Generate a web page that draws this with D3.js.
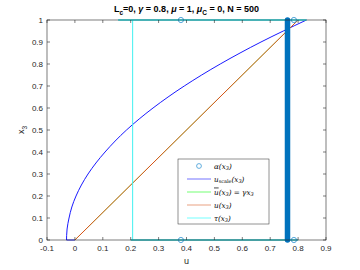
<!DOCTYPE html>
<html>
<head>
<meta charset="utf-8">
<script src="https://cdn.jsdelivr.net/npm/d3@7"></script>
<style>
  body { margin: 0; background: #fff; }
  svg { display: block; font-family: "Liberation Sans", Arial, sans-serif; }
</style>
</head>
<body>
<svg id="chart" width="360" height="270"></svg>
<script>
  // data
  var xTicks = [-0.1, 0, 0.1, 0.2, 0.3, 0.4, 0.5, 0.6, 0.7, 0.8, 0.9]
  var yTicks = [0, 0.1, 0.2, 0.3, 0.4, 0.5, 0.6, 0.7, 0.8, 0.9, 1]
  // u_scale(x3): [u, x3]
  var uScaleFoot = [[0, 0], [-0.03, 0]]
  var uScale = [[-0.03, 0], [-0.0297, 0.02], [-0.028, 0.05], [-0.021, 0.1], [-0.011, 0.15], [0.004, 0.2],
    [0.047, 0.3], [0.108, 0.4], [0.185, 0.5], [0.28, 0.6], [0.392, 0.7], [0.521, 0.8],
    [0.667, 0.9], [0.83, 1]]
  // ubar(x3) = gamma*x3 and u(x3) lie on top of each other
  var uBar = [[0, 0], [0.8, 1]]
  var uLine = [[0, 0], [0.8, 1]]
  // tau(x3)
  var tauTop = [[0.155, 1], [0.83, 1]]
  var tauVert = [[0.207, 0], [0.207, 1]]
  var tauBottom = [[0.2, 0], [0.8, 0]]
  // alpha(x3): isolated markers and the dense column of markers
  var alphaPts = [[0.38, 1], [0.785, 1], [0.38, 0], [0.785, 0]]
  var alphaColumn = [[0.762, 0], [0.762, 1]]

  // legend entries, text parts: [string, 'n' normal | 's' subscript | 'o' overline]
  var legendItems = [
    { key: 'alpha', color: '#0072BD', parts: [['α(x', 'n'], ['3', 's'], [')', 'n']] },
    { key: 'uscale', color: '#0000FF', parts: [['u', 'n'], ['scale', 's'], ['(x', 'n'], ['3', 's'], [')', 'n']] },
    { key: 'ubar', color: '#00FF00', parts: [['u', 'o'], ['(x', 'n'], ['3', 's'], [') = γx', 'n'], ['3', 's']] },
    { key: 'u', color: '#D95319', parts: [['u(x', 'n'], ['3', 's'], [')', 'n']] },
    { key: 'tau', color: '#00FFFF', parts: [['τ(x', 'n'], ['3', 's'], [')', 'n']] }
  ]

  var svg = d3.select('#chart')
  var pl = 47, pr = 326, pt = 20, pb = 240

  var x = d3.scaleLinear().domain([-0.1, 0.9]).range([pl, pr])
  var y = d3.scaleLinear().domain([0, 1]).range([pb, pt])

  var line = d3.line().x(function (d) { return x(d[0]) }).y(function (d) { return y(d[1]) })
  var smooth = d3.line().curve(d3.curveMonotoneY)
    .x(function (d) { return x(d[0]) }).y(function (d) { return y(d[1]) })

  var axisColor = '#262626'

  function draw(data, color, w, gen) {
    svg.append('path')
      .datum(data)
      .attr('d', gen || line)
      .attr('fill', 'none')
      .attr('stroke', color)
      .attr('stroke-width', w || 1)
  }

  draw(uScaleFoot, '#0000FF', 0.9)
  draw(uScale, '#0000FF', 0.9, smooth)
  draw(uBar, '#00FF00', 0.5)
  draw(uLine, '#D95319', 1)
  draw(tauVert, '#40F0F0', 1)
  draw(tauTop, '#22E8F0', 1.6)
  draw(tauBottom, '#1FC6CC', 1.3)

  // dense column of alpha markers
  svg.append('path')
    .datum(alphaColumn)
    .attr('d', line)
    .attr('stroke', '#0072BD')
    .attr('stroke-width', 5.5)
    .attr('stroke-linecap', 'round')

  svg.selectAll('circle.alpha')
    .data(alphaPts)
    .enter().append('circle')
    .attr('class', 'alpha')
    .attr('cx', function (d) { return x(d[0]) })
    .attr('cy', function (d) { return y(d[1]) })
    .attr('r', 2.6)
    .attr('fill', 'none')
    .attr('stroke', '#3C9AD6')
    .attr('stroke-width', 0.9)

  // axes
  var g = svg.append('g').attr('font-size', 8).attr('fill', axisColor)
  g.append('rect')
    .attr('x', pl).attr('y', pt)
    .attr('width', pr - pl).attr('height', pb - pt)
    .attr('fill', 'none').attr('stroke', axisColor).attr('stroke-width', 0.6)

  var tl = 3
  xTicks.forEach(function (t) {
    g.append('line').attr('x1', x(t)).attr('x2', x(t)).attr('y1', pb).attr('y2', pb - tl)
      .attr('stroke', axisColor).attr('stroke-width', 0.6)
    g.append('line').attr('x1', x(t)).attr('x2', x(t)).attr('y1', pt).attr('y2', pt + tl)
      .attr('stroke', axisColor).attr('stroke-width', 0.6)
    g.append('text').attr('x', x(t)).attr('y', pb + 11)
      .attr('text-anchor', 'middle').attr('fill', axisColor)
      .text(String(t))
  })
  yTicks.forEach(function (t) {
    g.append('line').attr('x1', pl).attr('x2', pl + tl).attr('y1', y(t)).attr('y2', y(t))
      .attr('stroke', axisColor).attr('stroke-width', 0.6)
    g.append('line').attr('x1', pr).attr('x2', pr - tl).attr('y1', y(t)).attr('y2', y(t))
      .attr('stroke', axisColor).attr('stroke-width', 0.6)
    g.append('text').attr('x', pl - 4).attr('y', y(t) + 3)
      .attr('text-anchor', 'end').attr('fill', axisColor)
      .text(String(t))
  })

  // axis labels
  svg.append('text').attr('x', (pl + pr) / 2).attr('y', 264)
    .attr('text-anchor', 'middle').attr('font-size', 9).attr('fill', axisColor).text('u')
  var yl = svg.append('text').attr('transform', 'translate(24,130) rotate(-90)')
    .attr('text-anchor', 'middle').attr('font-size', 9).attr('fill', axisColor)
  yl.append('tspan').text('x')
  yl.append('tspan').attr('font-size', 6.5).attr('dy', 2.5).text('3')

  // title
  var title = svg.append('text').attr('x', (pl + pr) / 2).attr('y', 12)
    .attr('text-anchor', 'middle').attr('font-size', 9).attr('font-weight', 'bold').attr('fill', '#000')
  title.append('tspan').text('L')
  title.append('tspan').attr('font-size', 6.5).attr('dy', 2.5).text('c')
  title.append('tspan').attr('dy', -2.5).text('=0, ')
  title.append('tspan').attr('font-style', 'italic').text('γ')
  title.append('tspan').text(' = 0.8, ')
  title.append('tspan').attr('font-style', 'italic').text('μ')
  title.append('tspan').text(' = 1, ')
  title.append('tspan').attr('font-style', 'italic').text('μ')
  title.append('tspan').attr('font-size', 6.5).attr('dy', 2.5).text('C')
  title.append('tspan').attr('dy', -2.5).text(' = 0, N = 500')

  // legend
  var lx = 178, ly = 159, lw = 91, lh = 65
  var leg = svg.append('g')
  leg.append('rect').attr('x', lx).attr('y', ly).attr('width', lw).attr('height', lh)
    .attr('fill', '#fff').attr('stroke', '#262626').attr('stroke-width', 0.5)

  var rowY = d3.scalePoint().domain(legendItems.map(function (d) { return d.key })).range([166, 218])

  legendItems.forEach(function (item) {
    var yy = rowY(item.key)
    if (item.key === 'alpha') {
      leg.append('circle').attr('cx', 199).attr('cy', yy).attr('r', 2.4)
        .attr('fill', 'none').attr('stroke', '#3C9AD6').attr('stroke-width', 0.8)
    } else {
      leg.append('line').attr('x1', 187).attr('x2', 211).attr('y1', yy).attr('y2', yy)
        .attr('stroke', item.color).attr('stroke-width', 1).attr('stroke-opacity', 0.55)
    }
    var t = leg.append('text').attr('x', 214).attr('y', yy + 2.6)
      .attr('font-family', '"DejaVu Serif", "Liberation Serif", serif')
      .attr('font-style', 'italic').attr('font-size', 7.2).attr('fill', '#000')
    var shifted = false
    item.parts.forEach(function (p) {
      var s = t.append('tspan').text(p[0])
      if (p[1] === 's') {
        s.attr('font-size', 5)
        if (!shifted) { s.attr('dy', 1.8); shifted = true }
        if (p[0] === 'scale') s.attr('font-style', 'normal')
      } else {
        if (shifted) { s.attr('dy', -1.8); shifted = false }
        if (p[1] === 'o') s.attr('text-decoration', 'overline')
      }
    })
  })
</script>
</body>
</html>
